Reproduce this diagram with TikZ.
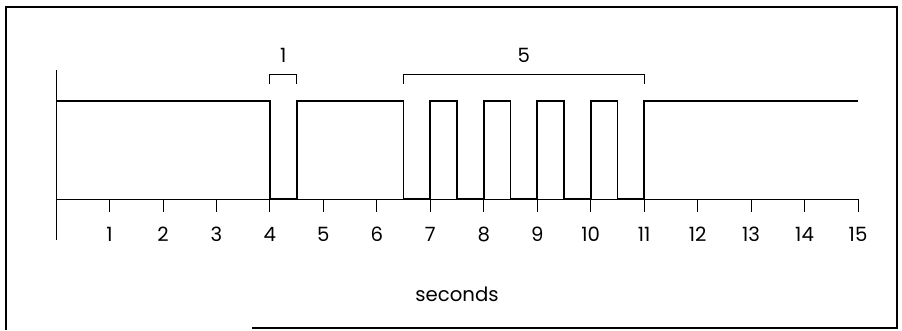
\documentclass[tikz,border=0pt]{standalone}
\usepackage{fontspec}
\setsansfont{Poppins}

\begin{document}
\begin{tikzpicture}[x=1.3367cm,y=1cm,font=\sffamily\fontsize{14}{16}\selectfont,
  axis/.style={line width=0.6pt},
  signal/.style={line width=1.3pt,line join=miter},
  brace/.style={line width=0.6pt}]
\useasboundingbox (-1.047,-3.275) rectangle (15.822,4.975);
% frame (bottom edge only partly printed)
\draw[line width=1.1pt] (3.666,-3.225) -- (15.73,-3.225) -- (15.73,4.8) -- (-0.935,4.8) -- (-0.935,-3.275);

% time axis
\draw[axis] (0,3.225) -- (0,-1.025);
\draw[axis] (0,0) -- (15,0);
\foreach \t in {1,...,15} {
  \draw[axis] (\t,0) -- (\t,-0.325);
  \node (lab\t) at (\t,-0.875) {\t};
}
\node (secs) at (7.5,-2.375) {seconds};

% pulse train
\draw[signal] (0,2.45) -- (4,2.45) -- (4,0) -- (4.5,0) -- (4.5,2.45) -- (6.5,2.45)
  \foreach \p in {6.5,7.5,...,10.5} { -- (\p,2.45) -- (\p,0) -- (\p+0.5,0) -- (\p+0.5,2.45) }
  -- (15,2.45);

% brackets
\draw[brace] (4,2.875) -- (4,3.125) -- (4.5,3.125) -- (4.5,2.875);
\node (one) at (4.25,3.6) {1};
\draw[brace] (6.5,2.875) -- (6.5,3.125) -- (11,3.125) -- (11,2.875);
\node (five) at (8.75,3.6) {5};

\end{tikzpicture}
\end{document}
